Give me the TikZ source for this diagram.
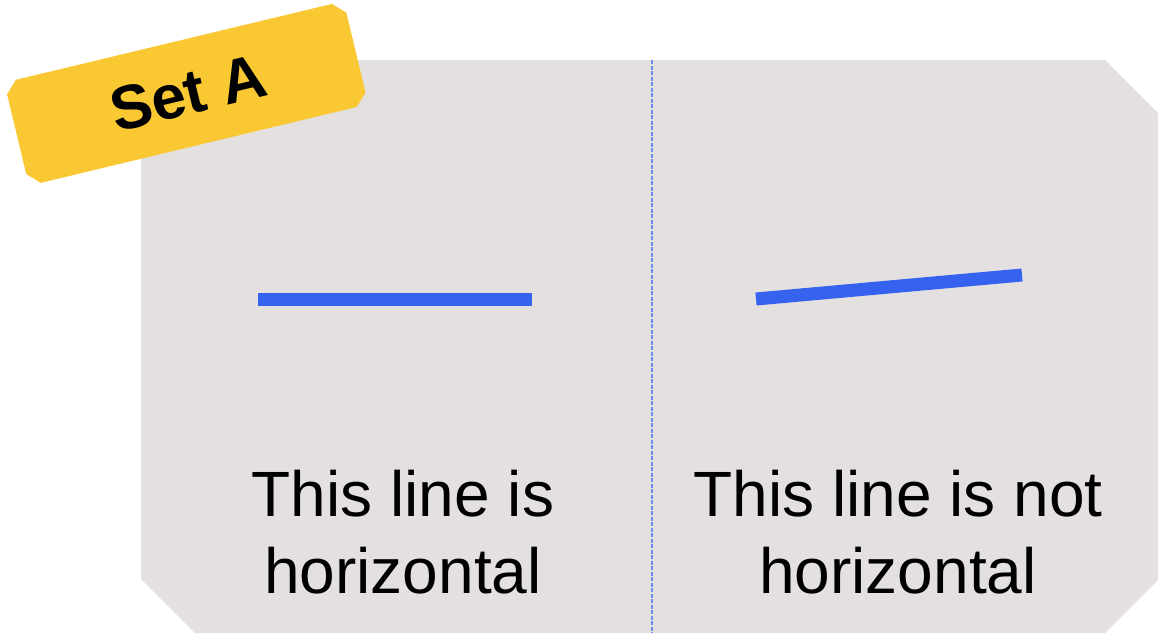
\documentclass[tikz,border=0pt]{standalone}
\usepackage{fontspec}
\setmainfont{Liberation Sans}
\definecolor{panelgray}{HTML}{E4E0E0}
\definecolor{tagyellow}{HTML}{F9C833}
\definecolor{lineblue}{HTML}{3563F0}
\definecolor{dashblue}{HTML}{6B8EF0}
\tikzset{
  bar/.style={draw=lineblue, line width=13pt, line cap=butt},
  caption/.style={font=\fontsize{64}{77}\selectfont, align=center, inner sep=0pt, anchor=base},
  divider/.style={draw=dashblue, line width=1.2pt, dash pattern=on 4pt off 1.5pt},
}
\begin{document}
\begin{tikzpicture}[x=1pt,y=-1pt]
\useasboundingbox (0,0) rectangle (1158,633);
% panel
\fill[panelgray] (141,60) -- (1105,60) -- (1158,113) -- (1158,580) -- (1105,633) -- (195,633) -- (141,579) -- cycle;
% divider
\coordinate (dtop) at (652,60);
\coordinate (dbot) at (652,633);
\draw[divider] (dtop) -- (dbot);
% lines
\coordinate (h1) at (258,299);
\coordinate (h2) at (532,299);
\draw[bar] (h1) -- (h2);
\coordinate (s1) at (756,299);
\coordinate (s2) at (1022,275);
\draw[bar] (s1) -- (s2);
% captions (base anchor = baseline of last line)
\node[caption] (capL) at (403,593.3) {This line is\\horizontal};
\node[caption] (capR) at (898,593.3) {This line is not\\horizontal};
% tag
\begin{scope}[shift={(186.3,93.4)}, rotate=13.5]
  \fill[tagyellow] (-162.5,-53) -- (162.5,-53) -- (174.5,-41) -- (174.5,41) -- (162.5,53)
        -- (-162.5,53) -- (-174.5,41) -- (-174.5,-41) -- cycle;
  \node[transform shape, inner sep=0pt, font=\bfseries\fontsize{62}{62}\selectfont] (tag) at (2,0) {Set A};
\end{scope}
\end{tikzpicture}
\end{document}
